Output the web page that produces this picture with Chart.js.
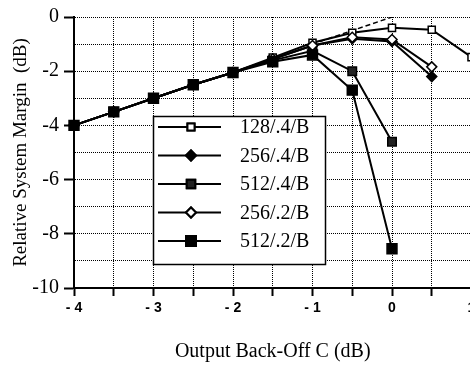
<!DOCTYPE html>
<html>
<head>
<meta charset="utf-8">
<script src="https://cdn.jsdelivr.net/npm/chart.js@4/dist/chart.umd.min.js"></script>
<style>
    html, body { margin: 0; padding: 0; background: #fff; overflow: hidden; }
    #wrap { width: 500px; height: 369px; }
</style>
</head>
<body>
<div id="wrap"><canvas id="marginChart" width="500" height="369"></canvas></div>
<script>
// Donnees
const backOff = [-4, -3.5, -3, -2.5, -2, -1.5, -1, -0.5, 0, 0.5, 1];
const margin128_4 = [-4, -3.5, -3, -2.5, -2.05, -1.5, -0.95, -0.58, -0.4, -0.47, -1.48];
const margin256_4 = [-4, -3.5, -3, -2.5, -2.05, -1.55, -1.05, -0.8, -0.9, -2.2];
const margin512_4 = [-4, -3.5, -3, -2.5, -2.05, -1.6, -1.25, -2.0, -4.6];
const margin256_2 = [-4, -3.5, -3, -2.5, -2.05, -1.55, -1.05, -0.75, -0.83, -1.84];
const margin512_2 = [-4, -3.5, -3, -2.5, -2.05, -1.65, -1.4, -2.7, -8.55];
const idealX = [-1, 0];
const idealY = [-1, 0];

const seriesLabels = ['128/.4/B', '256/.4/B', '512/.4/B', '256/.2/B', '512/.2/B'];
const xTickValues = [-4, -3, -2, -1, 0, 1];
const xTickLabels = ['- 4', '- 3', '- 2', '- 1', '0', '1'];
const yTickValues = [0, -2, -4, -6, -8, -10];
const yTickLabels = ['0', '-2', '-4', '-6', '-8', '-10'];

function toPoints(xs, ys) {
    return ys.map((y, i) => ({ x: xs[i], y: y }));
}

const serif = '"Liberation Serif", "Times New Roman", serif';
const sans = '"Liberation Sans", Arial, sans-serif';

// Legende dessinee dans la zone du graphique
const legendBox = {
    id: 'legendBox',
    beforeDatasetsDraw(chart) {
        const ctx = chart.ctx;
        const items = chart.data.datasets.filter(d => !d.hideInLegend);
        ctx.save();
        ctx.fillStyle = '#fff';
        ctx.fillRect(153, 116, 172, 148);
        ctx.strokeStyle = '#000';
        ctx.lineWidth = 1.5;
        ctx.strokeRect(153.5, 116.5, 172, 148);
        items.forEach((ds, i) => {
            const y = 127 + i * 28.5;
            ctx.strokeStyle = '#000';
            ctx.lineWidth = 2;
            ctx.beginPath();
            ctx.moveTo(158, y);
            ctx.lineTo(221, y);
            ctx.stroke();
            Chart.helpers.drawPoint(ctx, {
                pointStyle: ds.pointStyle,
                radius: ds.pointRadius,
                borderWidth: ds.pointBorderWidth
            }, 191, y);
            ctx.fillStyle = ds.pointBackgroundColor;
            ctx.strokeStyle = '#000';
            ctx.fill();
            ctx.stroke();
            ctx.fillStyle = '#000';
            ctx.font = '20px ' + serif;
            ctx.textBaseline = 'middle';
            ctx.fillText(ds.label, 240, y + 1);
        });
        ctx.restore();
    }
};

function series(label, ys, style, radius, fill, order) {
    return {
        label: label,
        data: toPoints(backOff, ys),
        borderColor: '#000',
        borderWidth: 2,
        pointStyle: style,
        pointRadius: radius,
        pointBackgroundColor: fill,
        pointBorderColor: '#000',
        pointBorderWidth: 1.5,
        order: order,
        clip: false
    };
}

const datasets = [
    series(seriesLabels[0], margin128_4, 'rect', 5, '#fff', 2),
    series(seriesLabels[1], margin256_4, 'rectRot', 5, '#000', 3),
    series(seriesLabels[2], margin512_4, 'rect', 6, '#222', 4),
    series(seriesLabels[3], margin256_2, 'rectRot', 5, '#fff', 1),
    series(seriesLabels[4], margin512_2, 'rect', 7, '#000', 0),
    {
        label: 'ideal',
        hideInLegend: true,
        data: toPoints(idealX, idealY),
        borderColor: '#000',
        borderWidth: 1.5,
        borderDash: [5, 3],
        pointRadius: 0,
        order: 5
    }
];

const chart = new Chart(document.getElementById('marginChart'), {
    type: 'line',
    data: { datasets: datasets },
    plugins: [legendBox],
    options: {
        responsive: false,
        animation: false,
        devicePixelRatio: 1,
        layout: { padding: { left: 0, top: 12, right: 28.5, bottom: 0 } },
        plugins: {
            legend: { display: false },
            tooltip: { enabled: false }
        },
        scales: {
            x: {
                type: 'linear',
                min: -4,
                max: 1,
                afterFit: function(scale) { scale.height = 81; },
                ticks: {
                    stepSize: 0.5,
                    autoSkip: false,
                    maxRotation: 0,
                    padding: 4,
                    color: '#000',
                    font: { family: sans, size: 14, weight: 'bold' },
                    callback: function(value) {
                        const i = xTickValues.indexOf(value);
                        return i >= 0 ? xTickLabels[i] : '';
                    }
                },
                grid: {
                    color: '#000',
                    lineWidth: 1,
                    tickLength: 8,
                    tickColor: '#000',
                    tickWidth: 2
                },
                border: { color: '#000', width: 2, dash: [1, 1] },
                title: {
                    display: true,
                    text: 'Output Back-Off C (dB)',
                    color: '#000',
                    font: { family: serif, size: 20 },
                    padding: { top: 4, bottom: 5 }
                }
            },
            y: {
                min: -10,
                max: 0,
                afterFit: function(scale) { scale.width = 74; },
                ticks: {
                    stepSize: 1,
                    autoSkip: false,
                    padding: 5,
                    color: '#000',
                    font: { family: serif, size: 20 },
                    callback: function(value) {
                        const i = yTickValues.indexOf(value);
                        return i >= 0 ? yTickLabels[i] : '';
                    }
                },
                grid: {
                    color: '#000',
                    lineWidth: 1,
                    tickLength: 10,
                    tickWidth: 2,
                    tickColor: function(ctx) {
                        return ctx.tick && yTickValues.indexOf(ctx.tick.value) >= 0 ? '#000' : 'rgba(0,0,0,0)';
                    }
                },
                border: { color: '#000', width: 2, dash: [1, 1] },
                title: {
                    display: true,
                    text: 'Relative System Margin  (dB)',
                    color: '#000',
                    font: { family: serif, size: 19 },
                    padding: { top: 10, bottom: 0 }
                }
            }
        }
    }
});
</script>
</body>
</html>
